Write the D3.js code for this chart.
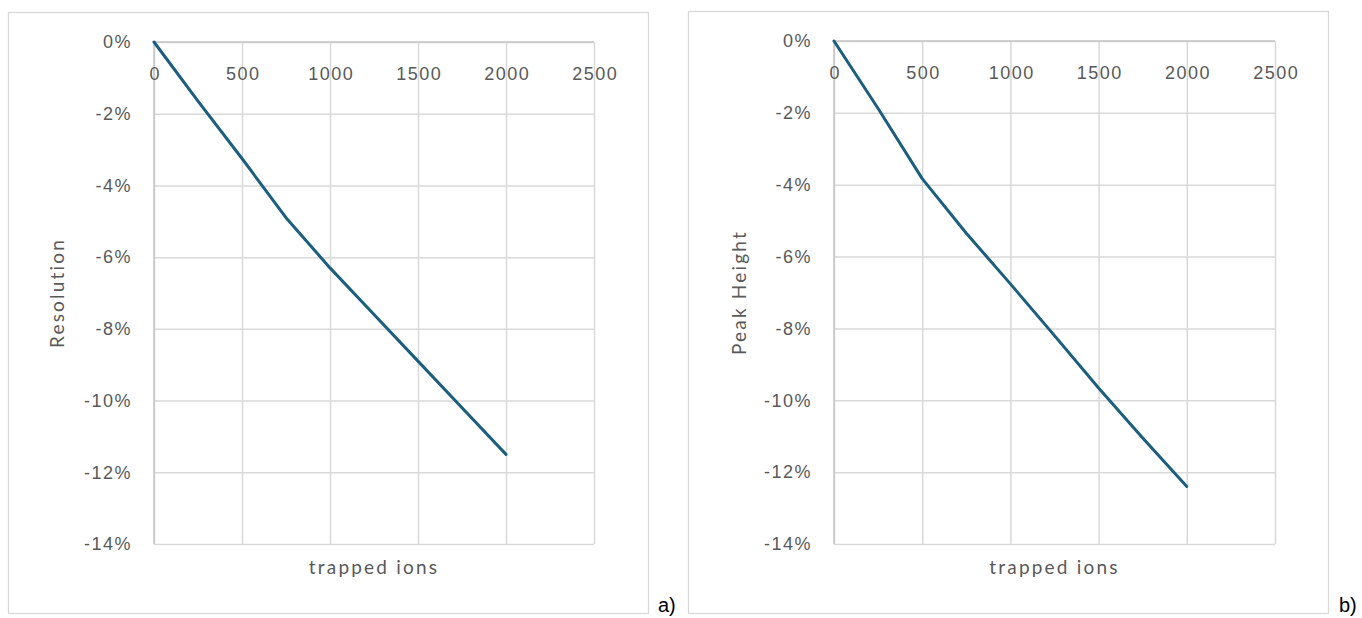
<!DOCTYPE html>
<html>
<head>
<meta charset="utf-8">
<script src="https://cdn.jsdelivr.net/npm/d3@7"></script>
<style>
  html, body { margin: 0; padding: 0; background: #ffffff; }
  svg { display: block; }
  .tick text { font-family: "Liberation Sans", Arial, sans-serif; font-size: 18px; fill: #595959; letter-spacing: 1.5px; }
  .axis-title { font-family: Lato, "Open Sans", sans-serif; font-size: 19px; fill: #595959; letter-spacing: 2.2px; }
  .panel-tag { font-family: "Liberation Sans", Arial, sans-serif; font-size: 20px; fill: #000000; }
</style>
</head>
<body>
<svg id="chart" width="1362" height="618"></svg>
<script>
// Number of trapped ions (x values shared by both panels)
const ions = [0, 250, 500, 750, 1000, 1250, 1500, 1750, 2000];
// Relative change in resolution (fraction)
const resolutionChange = [0, -0.0165, -0.0325, -0.049, -0.063, -0.076, -0.089, -0.102, -0.115];
// Relative change in peak height (fraction)
const peakHeightChange = [0, -0.0188, -0.0383, -0.0535, -0.0676, -0.082, -0.0966, -0.1105, -0.124];

const xTicks = [0, 500, 1000, 1500, 2000, 2500];
const yTicks = [0, -0.02, -0.04, -0.06, -0.08, -0.10, -0.12, -0.14];
const xTickLabels = ["0", "500", "1000", "1500", "2000", "2500"];
const yTickLabels = ["0%", "-2%", "-4%", "-6%", "-8%", "-10%", "-12%", "-14%"];

const yTitles = ["Resolution", "Peak Height"];
const xTitle = "trapped ions";
const panelTags = ["a)", "b)"];

const svg = d3.select("#chart");

const panels = [
  { values: resolutionChange, yTitle: yTitles[0], tag: panelTags[0],
    frame: { x: 8.5, y: 12.5, w: 640, h: 601 },
    plot: { left: 154, right: 594, top: 42, bottom: 544 },
    yTitleX: 64, tagX: 658 },
  { values: peakHeightChange, yTitle: yTitles[1], tag: panelTags[1],
    frame: { x: 688.5, y: 11.5, w: 640, h: 602 },
    plot: { left: 834, right: 1275, top: 41, bottom: 544 },
    yTitleX: 746, tagX: 1339 }
];

panels.forEach(p => {
  const g = svg.append("g");

  // chart frame
  g.append("rect")
    .attr("x", p.frame.x).attr("y", p.frame.y)
    .attr("width", p.frame.w).attr("height", p.frame.h)
    .attr("fill", "#ffffff").attr("stroke", "#d9d9d9").attr("stroke-width", 1.3);

  const x = d3.scaleLinear().domain([0, 2500]).range([p.plot.left, p.plot.right]);
  const y = d3.scaleLinear().domain([0, -0.14]).range([p.plot.top, p.plot.bottom]);
  const w = p.plot.right - p.plot.left;
  const h = p.plot.bottom - p.plot.top;

  // vertical gridlines
  g.append("g")
    .attr("transform", `translate(0,${p.plot.bottom})`)
    .call(d3.axisBottom(x).tickValues(xTicks).tickSize(-h).tickFormat(""))
    .call(a => a.select(".domain").remove())
    .call(a => a.selectAll("line").attr("stroke", "#d9d9d9").attr("stroke-width", 1.5));

  // horizontal gridlines
  g.append("g")
    .attr("transform", `translate(${p.plot.left},0)`)
    .call(d3.axisLeft(y).tickValues(yTicks).tickSize(-w).tickFormat(""))
    .call(a => a.select(".domain").remove())
    .call(a => a.selectAll("line").attr("stroke", "#d9d9d9").attr("stroke-width", 1.5));

  // value axis line
  g.append("line")
    .attr("x1", x(0)).attr("x2", x(0))
    .attr("y1", y(0)).attr("y2", y(-0.14))
    .attr("stroke", "#c4c4c4").attr("stroke-width", 1.5);
  // category axis line, crossing at 0%
  g.append("line")
    .attr("x1", x(0)).attr("x2", x(2500))
    .attr("y1", y(0)).attr("y2", y(0))
    .attr("stroke", "#c4c4c4").attr("stroke-width", 1.5);

  // x tick labels (below the 0% axis)
  g.append("g")
    .attr("transform", `translate(0,${y(0)})`)
    .call(d3.axisBottom(x).tickValues(xTicks).tickSize(0).tickPadding(25)
      .tickFormat((d, i) => xTickLabels[i]))
    .call(a => a.select(".domain").remove())
    .call(a => a.selectAll("text").attr("dx", "0.75px"));

  // y tick labels
  g.append("g")
    .attr("transform", `translate(${x(0)},0)`)
    .call(d3.axisLeft(y).tickValues(yTicks).tickSize(0).tickPadding(22)
      .tickFormat((d, i) => yTickLabels[i]))
    .call(a => a.select(".domain").remove());

  // series line
  const line = d3.line().x((d, i) => x(ions[i])).y(d => y(d));
  g.append("path")
    .datum(p.values)
    .attr("d", line)
    .attr("fill", "none")
    .attr("stroke", "#1b5e7e")
    .attr("stroke-width", 3)
    .attr("stroke-linejoin", "round")
    .attr("stroke-linecap", "round");

  // axis titles
  g.append("text")
    .attr("class", "axis-title")
    .attr("x", (p.plot.left + p.plot.right) / 2)
    .attr("y", 574)
    .attr("text-anchor", "middle")
    .text(xTitle);

  g.append("text")
    .attr("class", "axis-title")
    .attr("transform", `translate(${p.yTitleX},${(p.plot.top + p.plot.bottom) / 2}) rotate(-90)`)
    .attr("text-anchor", "middle")
    .text(p.yTitle);

  // panel tag
  g.append("text")
    .attr("class", "panel-tag")
    .attr("x", p.tagX)
    .attr("y", 612)
    .text(p.tag);
});
</script>
</body>
</html>
